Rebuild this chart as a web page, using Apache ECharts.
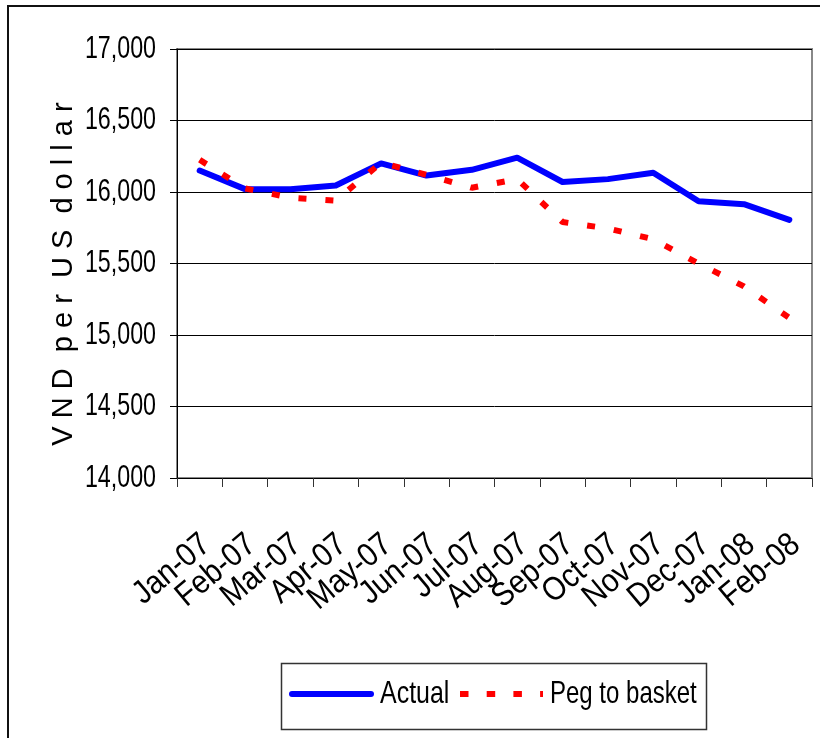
<!DOCTYPE html>
<html>
<head>
<meta charset="utf-8">
<script src="https://cdn.jsdelivr.net/npm/echarts@6/dist/echarts.min.js"></script>
<style>
html,body{margin:0;padding:0;background:#fff;}
#chart{width:820px;height:738px;}
</style>
</head>
<body>
<div id="chart"></div>
<script>
var categories = ['Jan-07','Feb-07','Mar-07','Apr-07','May-07','Jun-07','Jul-07','Aug-07','Sep-07','Oct-07','Nov-07','Dec-07','Jan-08','Feb-08'];
var actual = [16150, 16020, 16020, 16045, 16200, 16115, 16155, 16240, 16070, 16090, 16135, 15935, 15915, 15805];
var pegToBasket = [16225, 16025, 15960, 15940, 16205, 16120, 16030, 16090, 15790, 15745, 15670, 15500, 15340, 15120];
var seriesNames = ['Actual', 'Peg to basket'];
var yMin = 14000, yMax = 17000, yStep = 500;
var yTitle = 'V N D  p e r  U S  d o l l a r';

var FONT = '"Liberation Sans", Arial, sans-serif';
var SX = 0.75;
var BLUE = '#0000ff', RED = '#ff0000';
var chart = echarts.init(document.getElementById('chart'));
function fmt(v){ return String(v).replace(/\B(?=(\d{3})+(?!\d))/g, ','); }

chart.setOption({
  animation: false,
  backgroundColor: '#fff',
  grid: { left: 177, right: 8, top: 49, bottom: 260, show: true, borderColor: '#888', borderWidth: 2, backgroundColor: 'transparent' },
  xAxis: {
    type: 'category',
    data: categories,
    boundaryGap: true,
    axisLine: { show: true, lineStyle: { color: '#000', width: 1 } },
    axisTick: { show: true, interval: 0, length: 9, lineStyle: { color: '#333' } },
    axisLabel: { show: false, interval: 0 },
    splitLine: { show: false }
  },
  yAxis: {
    type: 'value',
    min: yMin, max: yMax, interval: yStep,
    axisLine: { show: true, lineStyle: { color: '#000', width: 1 } },
    axisTick: { show: true, length: 7, lineStyle: { color: '#000' } },
    axisLabel: { show: false },
    splitLine: { show: true, lineStyle: { color: '#000', width: 1 } }
  },
  series: [
    { name: seriesNames[0], type: 'line', data: actual, symbol: 'none', z: 3,
      lineStyle: { color: BLUE, width: 6, cap: 'round', join: 'round' }, itemStyle: { color: BLUE } },
    { name: seriesNames[1], type: 'line', data: pegToBasket, symbol: 'none', z: 4,
      lineStyle: { color: RED, width: 6, type: [8, 19], cap: 'butt' }, itemStyle: { color: RED } }
  ]
});

var g = [];
g.push({ type: 'rect', z: -10, shape: { x: 8, y: 6, width: 1000, height: 1000 }, style: { fill: 'none', stroke: '#111', lineWidth: 2 } });
g.push({ type: 'text', x: 64, y: 274, rotation: Math.PI / 2,
  style: { text: yTitle, font: '29px ' + FONT, fill: '#000', align: 'center', verticalAlign: 'middle' } });

// y tick labels
for (var v = yMin; v <= yMax; v += yStep) {
  var py = chart.convertToPixel({ yAxisIndex: 0 }, v);
  g.push({ type: 'text', x: 156, y: py, scaleX: SX,
    style: { text: fmt(v), font: '31px ' + FONT, fill: '#000', align: 'right', verticalAlign: 'middle' } });
}
// x tick labels (rotated)
var rot = 40 * Math.PI / 180;
for (var i = 0; i < categories.length; i++) {
  var px = chart.convertToPixel({ xAxisIndex: 0 }, i);
  g.push({ type: 'text', x: px - 4, y: 528, rotation: rot, scaleX: 0.89,
    style: { text: categories[i], font: '33px ' + FONT, fill: '#000', align: 'right', verticalAlign: 'top' } });
}
// legend
var ly = 694;
g.push({ type: 'rect', shape: { x: 281.5, y: 663.5, width: 425, height: 66 }, style: { fill: '#fff', stroke: '#333', lineWidth: 1.5 } });
g.push({ type: 'line', shape: { x1: 292, y1: ly, x2: 371, y2: ly }, style: { stroke: BLUE, lineWidth: 6, lineCap: 'round' } });
g.push({ type: 'text', x: 380, y: ly, scaleX: 0.78,
  style: { text: seriesNames[0], font: '32px ' + FONT, fill: '#000', align: 'left', verticalAlign: 'middle' } });
g.push({ type: 'line', shape: { x1: 460, y1: ly, x2: 543, y2: ly }, style: { stroke: RED, lineWidth: 6, lineCap: 'butt', lineDash: [8.5, 18.2] } });
g.push({ type: 'text', x: 550, y: ly, scaleX: 0.75,
  style: { text: seriesNames[1], font: '32px ' + FONT, fill: '#000', align: 'left', verticalAlign: 'middle' } });

chart.setOption({ graphic: g });
</script>
</body>
</html>
